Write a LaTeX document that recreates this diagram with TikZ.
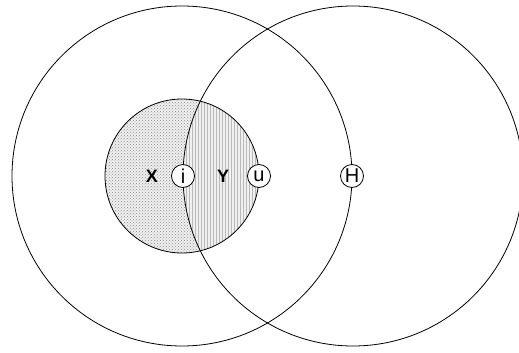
\documentclass[tikz,border=0pt]{standalone}
\usepackage{fontspec}
\setmainfont{Liberation Sans}
\usepackage{tikz}
\usetikzlibrary{patterns,positioning}
\definecolor{wavegray}{RGB}{140,140,140}
\definecolor{linegray}{RGB}{185,185,185}

\begin{document}
\begin{tikzpicture}[x=1pt, y=-1pt, line width=0.8pt,
  setlabel/.style={font=\fontsize{18}{21}\selectfont\bfseries},
  elem/.style={circle, draw, fill=white, minimum size=23pt, inner sep=0pt, font=\fontsize{20}{23}\selectfont}]
\useasboundingbox (0,0) rectangle (519,353);
\clip (0,0) rectangle (519,353);
% Shaded inner set
\begin{scope}
\clip (182,176) circle (77);
\fill[gray!12] (182,176) circle (77);
\fill[pattern=crosshatch dots, pattern color=wavegray] (182,176) circle (77);
\fill[gray!12] (353,176) circle (170);
\fill[pattern=vertical lines, pattern color=linegray] (353,176) circle (170);
\end{scope}
% Circles
\draw (182,176) circle (77);
\draw (182,176) circle (170);
\draw (353,176) circle (170);
% Labels
\node[setlabel] (x) at (152,176) {X};
\node[setlabel] (y) at (223,176) {Y};
\node[elem] (i) at (183,176) {i};
\node[elem] (u) at (259,176) {u};
\node[elem] (h) at (352,176) {H};
\end{tikzpicture}
\end{document}
